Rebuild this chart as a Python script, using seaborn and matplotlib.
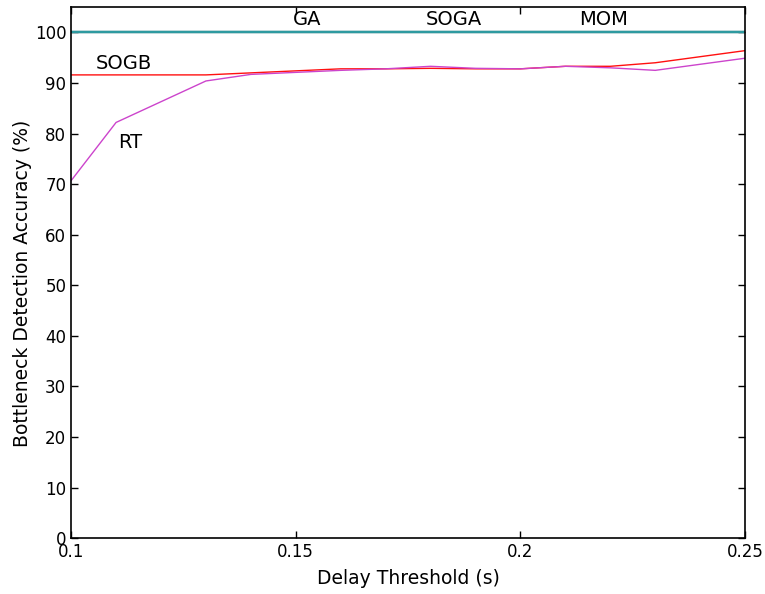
import pandas as pd
import matplotlib
matplotlib.use("Agg")
import matplotlib.pyplot as plt
import seaborn as sns

# Data
delay = [0.10, 0.11, 0.12, 0.13, 0.14, 0.15, 0.16, 0.17, 0.18, 0.19, 0.20, 0.21, 0.22, 0.23, 0.24, 0.25]
ga = [100] * 16
soga = [100] * 16
mom = [100] * 16
sogb = [91.6, 91.6, 91.6, 91.6, 92.0, 92.4, 92.8, 92.8, 92.9, 92.8, 92.8, 93.3, 93.3, 94.0, 95.2, 96.4]
rt = [70.7, 82.2, 86.3, 90.4, 91.7, 92.1, 92.5, 92.8, 93.3, 92.9, 92.8, 93.3, 93.0, 92.5, 93.7, 94.9]

series_names = ["GA", "SOGA", "MOM", "SOGB", "RT"]
series_colors = ["#2ca02c", "#3050c0", "#2e9aa0", "#ff1010", "#cc44cc"]

sns.set_style("ticks")
plt.rcParams['font.family'] = ['DejaVu Sans']
plt.rcParams['text.color'] = 'black'
plt.rcParams['axes.labelcolor'] = 'black'
plt.rcParams['xtick.color'] = 'black'
plt.rcParams['ytick.color'] = 'black'
plt.rcParams['axes.edgecolor'] = 'black'

df = pd.DataFrame({"delay": delay * 5,
                   "acc": ga + soga + mom + sogb + rt,
                   "method": sum([[n] * len(delay) for n in series_names], [])})

fig, ax = plt.subplots(figsize=(7.65, 5.94), dpi=100)
for name, col in zip(series_names, series_colors):
    sub = df[df["method"] == name]
    lw = 1.6 if name in ("GA", "SOGA", "MOM") else 1.0
    sns.lineplot(data=sub, x="delay", y="acc", color=col, linewidth=lw, ax=ax, legend=False)

# inline labels instead of a legend
ax.text(0.1525, 102.6, "GA", fontsize=14, ha="center", va="center")
ax.text(0.1852, 102.6, "SOGA", fontsize=14, ha="center", va="center")
ax.text(0.2184, 102.6, "MOM", fontsize=14, ha="center", va="center")
ax.text(0.1118, 93.9, "SOGB", fontsize=14, ha="center", va="center")
ax.text(0.1131, 78.2, "RT", fontsize=14, ha="center", va="center")

ax.set_xlim(0.1, 0.25)
ax.set_ylim(0, 105)
ax.set_xticks([0.1, 0.15, 0.2, 0.25])
ax.set_xticklabels(["0.1", "0.15", "0.2", "0.25"])
ax.set_yticks(range(0, 101, 10))
ax.tick_params(direction="in", top=True, right=True, labelsize=12, length=5, width=1)
for s in ax.spines.values():
    s.set_linewidth(1.2)
ax.set_xlabel("Delay Threshold (s)", fontsize=13.5)
ax.set_ylabel("Bottleneck Detection Accuracy (%)", fontsize=13.5)
ax.yaxis.set_label_coords(-0.058, 0.48)
ax.xaxis.set_label_coords(0.5, -0.058)

plt.subplots_adjust(left=0.093, right=0.974, top=0.988, bottom=0.094)
plt.savefig("out.png", dpi=100)
